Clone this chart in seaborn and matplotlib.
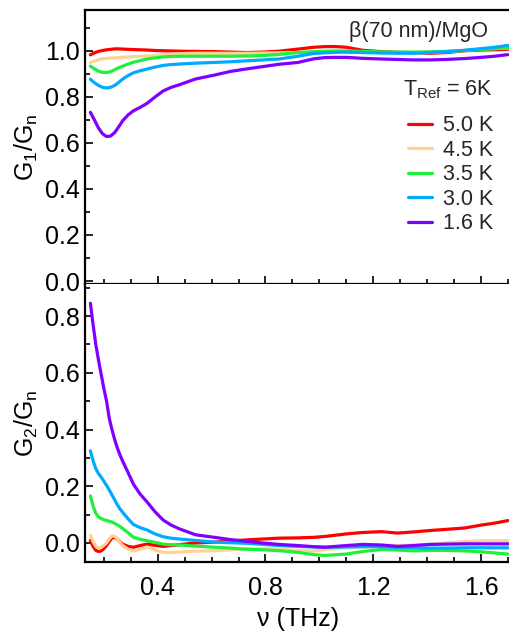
import numpy as np
import pandas as pd
import matplotlib
matplotlib.use("Agg")
import matplotlib.pyplot as plt
import seaborn as sns
from matplotlib.ticker import MultipleLocator, FormatStrFormatter

sns.set_theme(style="ticks")
plt.rcParams['font.family'] = ['Liberation Sans', 'DejaVu Sans']
plt.rcParams['mathtext.fontset'] = 'custom'
plt.rcParams['mathtext.rm'] = 'Liberation Sans'
plt.rcParams['mathtext.it'] = 'Liberation Sans:italic'

temps = ["5.0 K", "4.5 K", "3.5 K", "3.0 K", "1.6 K"]
colors = ["#ff0000", "#ffd38f", "#1ef03c", "#00aaff", "#8000ff"]

# ---- upper panel: G1/Gn ----
nu1 = [0.15, 0.165, 0.18, 0.195, 0.21, 0.225, 0.24, 0.255, 0.27, 0.29, 0.31, 0.335, 0.36, 0.39, 0.42, 0.45,
       0.48, 0.54, 0.61, 0.67, 0.73, 0.79, 0.85, 0.92, 0.98, 1.02, 1.06, 1.10, 1.16, 1.23, 1.29, 1.35,
       1.41, 1.47, 1.54, 1.60, 1.65, 1.70]
g1_50 = [0.983, 0.992, 0.998, 1.002, 1.005, 1.007, 1.009, 1.009, 1.008, 1.007, 1.006, 1.005, 1.004, 1.002, 1.001, 1.000,
         0.999, 0.998, 0.997, 0.995, 0.993, 0.995, 0.999, 1.008, 1.016, 1.019, 1.019, 1.016, 1.003, 0.997, 0.994, 0.993,
         0.990, 0.993, 1.001, 1.004, 1.005, 1.007]
g1_45 = [0.950, 0.956, 0.962, 0.966, 0.968, 0.969, 0.970, 0.971, 0.973, 0.974, 0.975, 0.977, 0.978, 0.980, 0.983, 0.986,
         0.988, 0.990, 0.990, 0.990, 0.990, 0.991, 0.992, 0.993, 0.995, 0.997, 0.996, 0.995, 0.994, 0.993, 0.993, 0.993,
         0.995, 0.997, 1.003, 1.008, 1.010, 1.012]
g1_35 = [0.934, 0.922, 0.912, 0.907, 0.906, 0.910, 0.918, 0.927, 0.934, 0.943, 0.951, 0.958, 0.965, 0.970, 0.974, 0.976,
         0.977, 0.977, 0.977, 0.977, 0.978, 0.980, 0.985, 0.993, 0.997, 0.999, 1.000, 1.000, 0.998, 0.996, 0.995, 0.995,
         0.996, 0.998, 1.002, 1.007, 1.010, 1.014]
g1_30 = [0.877, 0.862, 0.850, 0.842, 0.839, 0.842, 0.850, 0.863, 0.878, 0.893, 0.905, 0.914, 0.921, 0.930, 0.937, 0.941,
         0.943, 0.947, 0.950, 0.953, 0.957, 0.961, 0.965, 0.977, 0.989, 0.992, 0.994, 0.995, 0.993, 0.991, 0.990, 0.990,
         0.993, 0.997, 1.003, 1.010, 1.016, 1.024]
g1_16 = [0.733, 0.700, 0.665, 0.640, 0.628, 0.630, 0.645, 0.670, 0.697, 0.722, 0.740, 0.755, 0.772, 0.800, 0.826, 0.842,
         0.853, 0.878, 0.895, 0.911, 0.922, 0.932, 0.942, 0.950, 0.966, 0.971, 0.972, 0.972, 0.968, 0.965, 0.963, 0.961,
         0.961, 0.963, 0.967, 0.972, 0.977, 0.984]

# ---- lower panel: G2/Gn ----
nu2 = [0.15, 0.16, 0.17, 0.18, 0.19, 0.20, 0.21, 0.22, 0.23, 0.24, 0.25, 0.26, 0.27, 0.29, 0.31, 0.335,
       0.36, 0.39, 0.42, 0.45, 0.48, 0.54, 0.61, 0.67, 0.73, 0.79, 0.85, 0.92, 0.98, 1.02, 1.10, 1.16,
       1.23, 1.29, 1.35, 1.41, 1.47, 1.54, 1.60, 1.65, 1.70]
g2_50 = [0.009, -0.012, -0.026, -0.030, -0.028, -0.020, -0.009, 0.005, 0.018, 0.020, 0.014, 0.004, -0.004, -0.012, -0.015, -0.009,
         -0.004, -0.008, -0.012, -0.009, -0.006, 0.000, 0.003, 0.007, 0.011, 0.014, 0.017, 0.018, 0.020, 0.023, 0.032, 0.037,
         0.040, 0.035, 0.039, 0.044, 0.048, 0.053, 0.063, 0.070, 0.079]
g2_45 = [0.028, 0.005, -0.012, -0.018, -0.016, -0.008, 0.000, 0.014, 0.025, 0.024, 0.015, 0.002, -0.009, -0.022, -0.028, -0.022,
         -0.014, -0.025, -0.033, -0.034, -0.032, -0.029, -0.027, -0.024, -0.022, -0.020, -0.022, -0.026, -0.028, -0.023, -0.017, -0.014,
         -0.011, -0.009, -0.007, -0.005, 0.000, 0.005, 0.008, 0.008, 0.008]
g2_35 = [0.166, 0.130, 0.105, 0.092, 0.086, 0.082, 0.079, 0.077, 0.074, 0.069, 0.064, 0.058, 0.051, 0.036, 0.020, 0.013,
         0.008, 0.002, -0.004, -0.006, -0.007, -0.011, -0.015, -0.018, -0.022, -0.024, -0.027, -0.033, -0.041, -0.044, -0.039, -0.030,
         -0.023, -0.025, -0.028, -0.026, -0.026, -0.028, -0.031, -0.035, -0.039]
g2_30 = [0.325, 0.290, 0.262, 0.245, 0.232, 0.218, 0.203, 0.187, 0.170, 0.152, 0.135, 0.120, 0.108, 0.085, 0.065, 0.054,
         0.046, 0.032, 0.022, 0.017, 0.014, 0.009, 0.003, 0.001, -0.001, -0.005, -0.009, -0.012, -0.014, -0.015, -0.014, -0.013,
         -0.013, -0.016, -0.017, -0.018, -0.018, -0.017, -0.017, -0.017, -0.017]
g2_16 = [0.845, 0.770, 0.700, 0.645, 0.595, 0.545, 0.500, 0.440, 0.400, 0.365, 0.335, 0.310, 0.288, 0.248, 0.207, 0.172,
         0.145, 0.110, 0.081, 0.063, 0.050, 0.029, 0.020, 0.012, 0.006, 0.000, -0.005, -0.009, -0.013, -0.015, -0.009, -0.005,
         -0.007, -0.012, -0.009, -0.005, -0.004, -0.003, -0.003, -0.003, -0.003]

g1_all = [g1_50, g1_45, g1_35, g1_30, g1_16]
g2_all = [g2_50, g2_45, g2_35, g2_30, g2_16]

df1 = pd.concat([pd.DataFrame({"nu": nu1, "G": g, "T": t}) for g, t in zip(g1_all, temps)], ignore_index=True)
df2 = pd.concat([pd.DataFrame({"nu": nu2, "G": g, "T": t}) for g, t in zip(g2_all, temps)], ignore_index=True)
pal = dict(zip(temps, colors))

fig = plt.figure(figsize=(5.10, 6.33), dpi=100)
W, H = 510, 633
L, R = 85, 512
ax1 = fig.add_axes([L / W, 1 - 284 / H, (R - L) / W, (284 - 10) / H])
ax2 = fig.add_axes([L / W, 1 - 562 / H, (R - L) / W, (562 - 284) / H])

lw = 2.3
sns.lineplot(data=df1, x="nu", y="G", hue="T", hue_order=temps, palette=pal, ax=ax1,
             linewidth=lw, legend=False, sort=False)
sns.lineplot(data=df2, x="nu", y="G", hue="T", hue_order=temps, palette=pal, ax=ax2,
             linewidth=lw, legend=False, sort=False)

fs = 18
for ax in (ax1, ax2):
    ax.set_xlim(0.13, 1.715)
    ax.xaxis.set_major_locator(MultipleLocator(0.4))
    ax.xaxis.set_minor_locator(MultipleLocator(0.1))
    ax.yaxis.set_major_locator(MultipleLocator(0.2))
    ax.yaxis.set_minor_locator(MultipleLocator(0.1))
    ax.yaxis.set_major_formatter(FormatStrFormatter("%.1f"))
    ax.tick_params(which="both", direction="in", width=1.2, color="black",
                   top=False, right=False, labelsize=fs, pad=4, labelcolor="black")
    ax.tick_params(axis="x", which="both", pad=10)
    ax.tick_params(which="major", length=6)
    ax.tick_params(which="minor", length=3.5)
    ax.spines["right"].set_visible(False)
    for s in ("left", "bottom", "top"):
        ax.spines[s].set_linewidth(1.6)
        ax.spines[s].set_color("black")
    ax.set_facecolor("white")

ax1.set_ylim(-0.013, 1.178)
ax2.set_ylim(-0.067, 0.913)
ax1.tick_params(labelbottom=False)
ax1.set_xlabel("")
ax2.spines["top"].set_visible(False)

ax1.set_ylabel(r"G$_1$/G$_\mathrm{n}$", fontsize=fs, labelpad=3, color="black")
ax2.set_ylabel(r"G$_2$/G$_\mathrm{n}$", fontsize=fs, labelpad=3, color="black")
ax2.set_xlabel("ν (THz)", fontsize=fs, labelpad=5, color="black")

ax1.text(0.944, 0.903, "β(70 nm)/MgO", transform=ax1.transAxes, ha="right", va="baseline", fontsize=15.5)
ax1.text(0.955, 0.69, r"T$_\mathrm{Ref}$ = 6K", transform=ax1.transAxes, ha="right", va="baseline", fontsize=15.5)

handles = ax1.get_lines()[:5]
ax1.legend(handles, temps, loc="upper right", bbox_to_anchor=(0.955, 0.615), frameon=False,
           fontsize=15.5, handlelength=1.1, handletextpad=0.5, labelspacing=0.16,
           borderpad=0, borderaxespad=0)

fig.savefig("out.png", dpi=100, facecolor="white")
